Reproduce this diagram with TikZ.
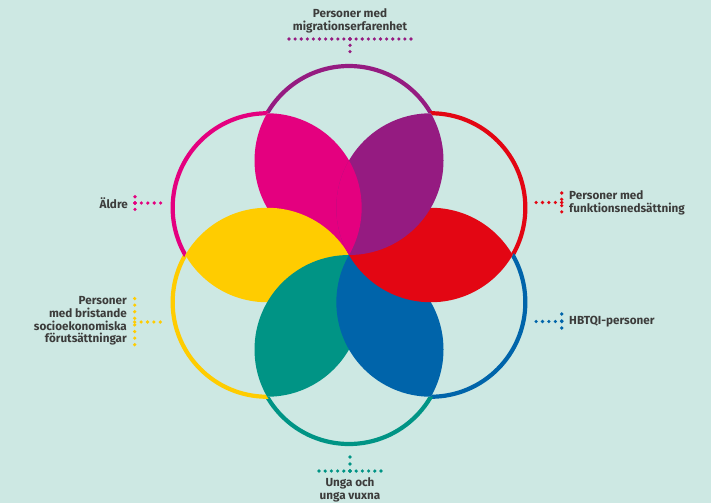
\documentclass[tikz,border=0pt]{standalone}
\usepackage{fontspec}
\setmainfont{Fira Sans}
\usetikzlibrary{calc}
\definecolor{bg}{HTML}{CDE8E3}
\definecolor{rosa}{HTML}{E4007F}
\definecolor{lila}{HTML}{951B81}
\definecolor{rod}{HTML}{E30613}
\definecolor{bla}{HTML}{0064AA}
\definecolor{gron}{HTML}{009485}
\definecolor{gul}{HTML}{FFCC00}
\definecolor{grafit}{HTML}{3C3C3B}
\newcommand\rad[0]{94.5}
\newcommand\outside[1]{\clip (0,0) rectangle (711,-503) (#1) circle (\rad);}

\begin{document}
\begin{tikzpicture}[x=1pt,y=1pt,
  ring/.style={line width=4.2pt},
  dotline/.style={line width=3.6pt, line cap=round, dash pattern=on 0pt off #1},
  dotline/.default=6.3pt,
  lbl/.style={text=grafit, font=\bfseries\fontsize{11.7}{12.8}\selectfont, inner sep=0pt}]

\fill[bg] (0,0) rectangle (711,-503);
\useasboundingbox (0,0) rectangle (711,-503);

\coordinate (O) at (349,-255);
\coordinate (Plila) at ($(O)+(90:\rad)$);
\coordinate (Prod) at ($(O)+(30:\rad)$);
\coordinate (Pbla) at ($(O)+(-30:\rad)$);
\coordinate (Pgron) at ($(O)+(-90:\rad)$);
\coordinate (Pgul) at ($(O)+(-150:\rad)$);
\coordinate (Prosa) at ($(O)+(150:\rad)$);

% rings, only the outer arcs
\begin{scope}[even odd rule]\outside{Prosa}\outside{Prod}\draw[ring,lila] (Plila) circle (\rad);\end{scope}
\begin{scope}[even odd rule]\outside{Plila}\outside{Pbla}\draw[ring,rod] (Prod) circle (\rad);\end{scope}
\begin{scope}[even odd rule]\outside{Prod}\outside{Pgron}\draw[ring,bla] (Pbla) circle (\rad);\end{scope}
\begin{scope}[even odd rule]\outside{Pbla}\outside{Pgul}\draw[ring,gron] (Pgron) circle (\rad);\end{scope}
\begin{scope}[even odd rule]\outside{Pgron}\outside{Prosa}\draw[ring,gul] (Pgul) circle (\rad);\end{scope}
\begin{scope}[even odd rule]\outside{Pgul}\outside{Plila}\draw[ring,rosa] (Prosa) circle (\rad);\end{scope}

% petals, each one over the next
\begin{scope}\clip (Prosa) circle (\rad); \fill[rosa] (Plila) circle (\rad);\end{scope}
\begin{scope}\clip (Pgul) circle (\rad); \fill[gul] (Prosa) circle (\rad);\end{scope}
\begin{scope}\clip (Pgron) circle (\rad); \fill[gron] (Pgul) circle (\rad);\end{scope}
\begin{scope}\clip (Pbla) circle (\rad); \fill[bla] (Pgron) circle (\rad);\end{scope}
\begin{scope}\clip (Prod) circle (\rad); \fill[rod] (Pbla) circle (\rad);\end{scope}
\begin{scope}\clip (Plila) circle (\rad); \fill[lila] (Prod) circle (\rad);\end{scope}
\begin{scope}\clip (Prosa) circle (\rad); \clip (Plila) circle (\rad); \fill[rosa] (Prod) circle (\rad);\end{scope}

% labels
\node[lbl,align=center] (mig) at (350,-21) {Personer med\\migrationserfarenhet};
\node[lbl,anchor=east] (aldre) at (128,-203.5) {Äldre};
\node[lbl,anchor=west,align=left] (funk) at (569,-203) {Personer med\\funktionsnedsättning};
\node[lbl,anchor=west] (hbtqi) at (569,-321.7) {HBTQI-personer};
\node[lbl,anchor=east,align=right] (socio) at (127,-321) {Personer\\med bristande\\socioekonomiska\\förutsättningar};
\node[lbl,align=center] (unga) at (350,-489.5) {Unga och\\unga vuxna};

% dotted leaders
\coordinate (jmig) at (350,-39);
\draw[dotline=6.1pt,lila] (jmig) -- ++(-61.3,0);
\draw[dotline=6.1pt,lila] (jmig) -- ++(61.3,0);
\draw[dotline,lila] (jmig) -- ++(0,-12.8);

\coordinate (jaldre) at (135,-203);
\draw[dotline,rosa] (jaldre) -- ++(0,6.5);
\draw[dotline,rosa] (jaldre) -- ++(0,-6.5);
\draw[dotline=6.4pt,rosa] (jaldre) -- ++(25.8,0);

\coordinate (jfunk) at (561.7,-202.5);
\draw[dotline=6.4pt,rod] (jfunk) -- ++(-25.8,0);
\draw[dotline,rod] ($(jfunk)+(0,9.5)$) -- ++(0,-19.2);

\coordinate (jhbtqi) at (561.7,-321.5);
\draw[dotline=6.4pt,bla] (jhbtqi) -- ++(-25.8,0);
\draw[dotline=7pt,bla] ($(jhbtqi)+(0,7.5)$) -- ++(0,-14.2);

\coordinate (jsocio) at (134.7,-322);
\draw[dotline=6.6pt,gul] ($(jsocio)+(0,23.5)$) -- ++(0,-46.4);
\draw[dotline=6.4pt,gul] (jsocio) -- ++(25.8,0);

\coordinate (junga) at (350,-471);
\draw[dotline=6.2pt,gron] (junga) -- ++(-34,0);
\draw[dotline=6.2pt,gron] (junga) -- ++(34,0);
\draw[dotline=7pt,gron] (junga) -- ++(0,14.2);

\end{tikzpicture}
\end{document}
